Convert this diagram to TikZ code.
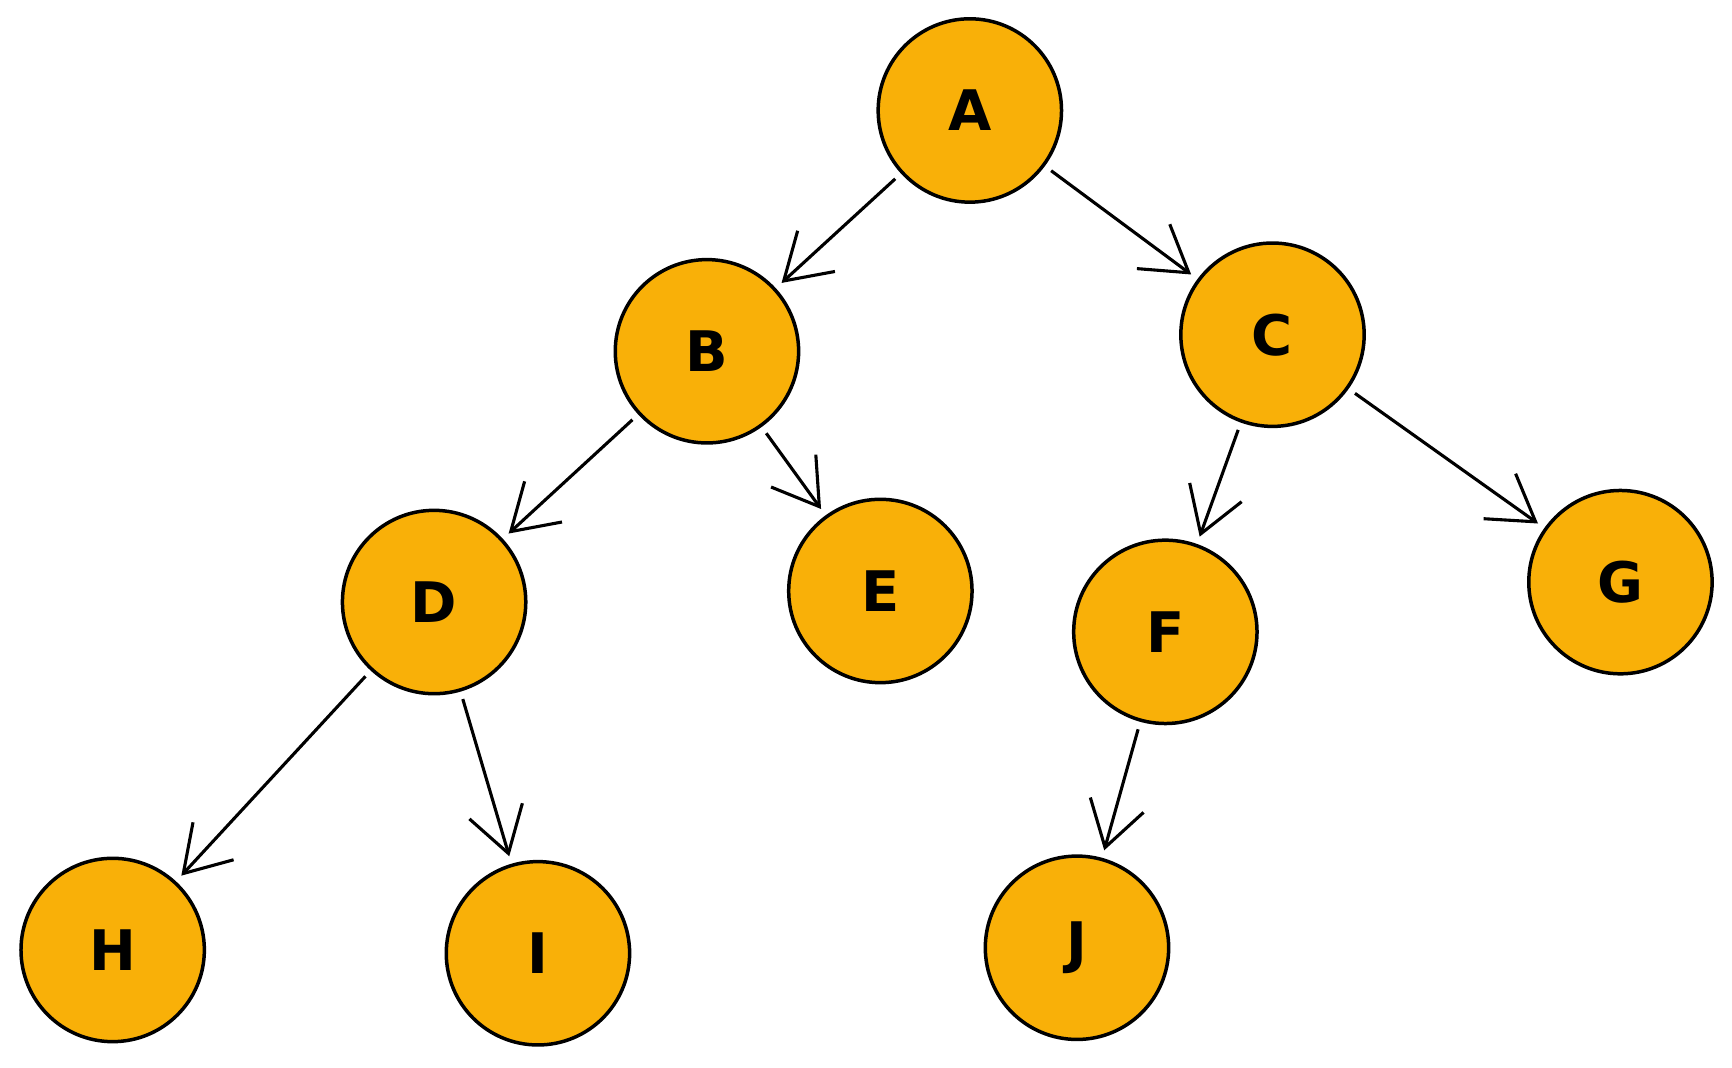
\documentclass[tikz,border=0pt]{standalone}
\usepackage{fontspec}
\setmainfont{DejaVu Sans}
\usetikzlibrary{arrows.meta}
\definecolor{nodeorange}{HTML}{F9B008}
\begin{document}
\begin{tikzpicture}[
    treenode/.style={
        circle,
        minimum size=1.66cm,
        draw=black,
        line width=0.9pt,
        fill=nodeorange,
        font=\Large\bfseries
    },
    edge/.style={
        -{Straight Barb[length=4mm,width=5mm]},
        line width=0.8pt,
        shorten >=2pt,
        shorten <=2pt
    }
]
\useasboundingbox (0,0) rectangle (15.68,-9.66);

% Nodes
\node[treenode] (a) at (8.78,-1.00) {A};
\node[treenode] (b) at (6.40,-3.18) {B};
\node[treenode] (c) at (11.52,-3.03) {C};
\node[treenode] (d) at (3.93,-5.45) {D};
\node[treenode] (e) at (7.97,-5.35) {E};
\node[treenode] (f) at (10.55,-5.72) {F};
\node[treenode] (g) at (14.67,-5.27) {G};
\node[treenode] (h) at (1.02,-8.60) {H};
\node[treenode] (i) at (4.87,-8.63) {I};
\node[treenode] (j) at (9.75,-8.58) {J};

% Edges
\draw[edge] (a) -- (b);
\draw[edge] (a) -- (c);
\draw[edge] (b) -- (d);
\draw[edge] (b) -- (e);
\draw[edge] (c) -- (f);
\draw[edge] (c) -- (g);
\draw[edge] (d) -- (h);
\draw[edge] (d) -- (i);
\draw[edge] (f) -- (j);

\end{tikzpicture}
\end{document}
